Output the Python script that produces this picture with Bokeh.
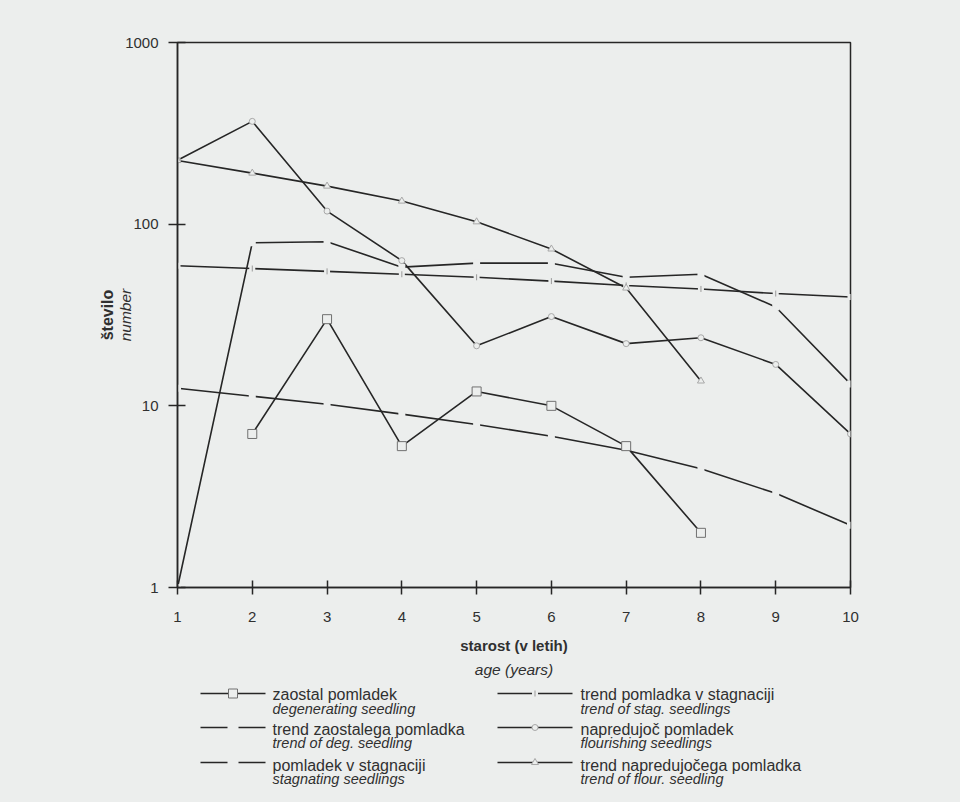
import numpy as np
from bokeh.plotting import figure
from bokeh.models import Range1d, FixedTicker, LinearAxis
from bokeh.layouts import column
from bokeh.embed import file_html
from bokeh.resources import INLINE
from bokeh.core.properties import value

# ---------------- data ----------------
ages = [1, 2, 3, 4, 5, 6, 7, 8, 9, 10]
deg_ages = [2, 3, 4, 5, 6, 7, 8]
degenerating = [7.0, 30.0, 6.0, 12.0, 10.0, 6.0, 2.0]
deg_trend = [12.5, 11.3, 10.2, 9.0, 7.9, 6.8, 5.7, 4.5, 3.3, 2.2]
stagnating = [1.0, 79, 80, 58, 61, 61, 51, 53, 35, 13.2]
stag_trend = [59, 57, 55, 53, 51, 48.6, 46, 44, 41.5, 39.7]
flourishing = [225, 368, 118, 63, 21.4, 31, 22, 23.7, 16.9, 7.0]
flour_trend_ages = [1, 2, 3, 4, 5, 6, 7, 8]
flour_trend = [224, 191, 162, 134, 103, 73, 44.5, 13.7]

y_ticks = [1, 10, 100, 1000]
y_tick_labels = ["1", "10", "100", "1000"]
x_ticks = ages

legend_main = ["zaostal pomladek", "trend zaostalega pomladka", "pomladek v stagnaciji",
               "trend pomladka v stagnaciji", "napredujoč pomladek", "trend napredujočega pomladka"]
legend_sub = ["degenerating seedling", "trend of deg. seedling", "stagnating seedlings",
              "trend of stag. seedlings", "flourishing seedlings", "trend of flour. seedling"]

# ---------------- style ----------------
BG = "#eceeed"
INK = "#262626"
TXT = "#303030"
FONT = "Liberation Sans"
LW = 1.6
W = 960
H_MAIN = 682
H_LEG = 120
FL, FR, FT, FB = 177, 850, 42, 587   # frame edges in page pixels

p = figure(width=W, height=H_MAIN, x_range=Range1d(1, 10), y_range=Range1d(1, 1000),
           y_axis_type="log", output_backend="svg", toolbar_location=None,
           min_border_left=FL, min_border_right=W - FR, min_border_top=FT,
           min_border_bottom=H_MAIN - FB,
           background_fill_color=BG, border_fill_color=BG,
           outline_line_color=INK, outline_line_width=1.5)
p.xgrid.visible = False
p.ygrid.visible = False

p.yaxis.ticker = FixedTicker(ticks=y_ticks, minor_ticks=[])
p.yaxis.major_label_overrides = {t: l for t, l in zip(y_ticks, y_tick_labels)}
p.xaxis.ticker = FixedTicker(ticks=x_ticks, minor_ticks=[])
for ax in (p.xaxis[0], p.yaxis[0]):
    ax.axis_line_color = INK
    ax.axis_line_width = 1.5
    ax.major_tick_line_color = INK
    ax.major_tick_line_width = 1.5
    ax.minor_tick_line_color = None
    ax.major_label_text_font = FONT
    ax.major_label_text_font_size = "15px"
    ax.major_label_text_color = TXT
    ax.axis_label_text_font = FONT
    ax.axis_label_text_color = TXT
p.xaxis.major_tick_in = 7
p.xaxis.major_tick_out = 7
p.xaxis.major_label_standoff = 17
p.yaxis.major_tick_in = 8
p.yaxis.major_tick_out = 9
p.yaxis.major_label_standoff = 10

# axis titles: primary axes carry one title line, extra empty axes the other
p.xaxis.axis_label = "starost (v letih)"
p.xaxis.axis_label_text_font_style = "bold"
p.xaxis.axis_label_text_font_size = "15px"
p.xaxis.axis_label_standoff = 12

p.yaxis.axis_label = "number"
p.yaxis.axis_label_text_font_style = "italic"
p.yaxis.axis_label_text_font_size = "15.5px"
p.yaxis.axis_label_standoff = -12


def title_axis(text, style, size, standoff):
    return LinearAxis(ticker=FixedTicker(ticks=[]), axis_line_color=None,
                      major_tick_in=0, major_tick_out=0, minor_tick_in=0, minor_tick_out=0,
                      major_label_standoff=0, axis_label=text, axis_label_standoff=standoff,
                      axis_label_text_font=FONT, axis_label_text_font_style=style,
                      axis_label_text_font_size=size, axis_label_text_color=TXT)


p.add_layout(title_axis("age (years)", "italic", "15.5px", 4), "below")
p.add_layout(title_axis("število", "bold", "16px", -1), "left")

# lines
p.line(deg_ages, degenerating, line_color=INK, line_width=LW)
p.line(ages, deg_trend, line_color=INK, line_width=LW)
p.line(ages, stagnating, line_color=INK, line_width=LW)
p.line(ages, stag_trend, line_color=INK, line_width=LW)
p.line(ages, flourishing, line_color=INK, line_width=LW)
p.line(flour_trend_ages, flour_trend, line_color=INK, line_width=LW)

# markers (background-coloured markers cutting the lines, as in the print)
p.scatter(ages, deg_trend, marker="square", size=7, fill_color=BG, line_color=None)
p.scatter(ages, stagnating, marker="square", size=7, fill_color=BG, line_color=None)
p.scatter(ages, stag_trend, marker="square", size=6, fill_color=BG, line_color=None)
p.scatter(ages, stag_trend, marker="dash", angle=np.pi / 2, size=6, line_color="#9a9a9a", line_width=1)
p.scatter(ages, flourishing, marker="circle", size=6, fill_color=BG, line_color="#a8a8a8", line_width=1)
p.scatter(flour_trend_ages, flour_trend, marker="triangle", size=7, fill_color=BG, line_color="#a8a8a8", line_width=1)
p.scatter(deg_ages, degenerating, marker="square", size=9, fill_color=BG, line_color="#707070", line_width=1)

# ---------------- legend (strip below, x in page pixels, y from the strip top) ----------------
lg = figure(width=W, height=H_LEG, x_range=Range1d(FL, FR), y_range=Range1d(H_LEG, 0),
            output_backend="svg", toolbar_location=None,
            min_border_left=FL, min_border_right=W - FR, min_border_top=0, min_border_bottom=0,
            x_axis_location=None, y_axis_location=None,
            background_fill_color=BG, border_fill_color=BG, outline_line_color=None)
lg.grid.visible = False

top = H_MAIN
col_line_x0 = [200, 200, 200, 497, 497, 497]
col_line_x1 = [265, 265, 265, 572, 572, 572]
col_text_x = [272, 272, 272, 580, 580, 580]
row_line_y = [v - top for v in [693, 727, 762, 693, 727, 762]]
row_main_y = [v - top for v in [694, 729, 765, 694, 729, 765]]
row_sub_y = [v - top for v in [708, 742, 778, 708, 742, 778]]

lg.segment(x0=col_line_x0, y0=row_line_y, x1=col_line_x1, y1=row_line_y, line_color=INK, line_width=LW)
cx = [(a + b) / 2 for a, b in zip(col_line_x0, col_line_x1)]
lg.scatter([cx[1], cx[2]], [row_line_y[1], row_line_y[2]], marker="square", size=11, fill_color=BG, line_color=None)
lg.scatter([cx[0]], [row_line_y[0]], marker="square", size=9, fill_color=BG, line_color="#707070")
lg.scatter([cx[3]], [row_line_y[3]], marker="square", size=6, fill_color=BG, line_color=None)
lg.scatter([cx[3]], [row_line_y[3]], marker="dash", angle=np.pi / 2, size=6, line_color="#9a9a9a")
lg.scatter([cx[4]], [row_line_y[4]], marker="circle", size=6, fill_color=BG, line_color="#a8a8a8")
lg.scatter([cx[5]], [row_line_y[5]], marker="triangle", size=7, fill_color=BG, line_color="#a8a8a8")

lg.text(x=col_text_x, y=row_main_y, text=legend_main, text_font=value(FONT), text_font_size="16px",
        text_baseline="middle", text_align="left", text_color=TXT)
lg.text(x=col_text_x, y=row_sub_y, text=legend_sub, text_font=value(FONT), text_font_size="14.5px",
        text_font_style="italic", text_baseline="middle", text_align="left", text_color=TXT)

layout = column(p, lg, spacing=0, styles={"background-color": BG})
open("out.html", "w").write(file_html(layout, INLINE))
